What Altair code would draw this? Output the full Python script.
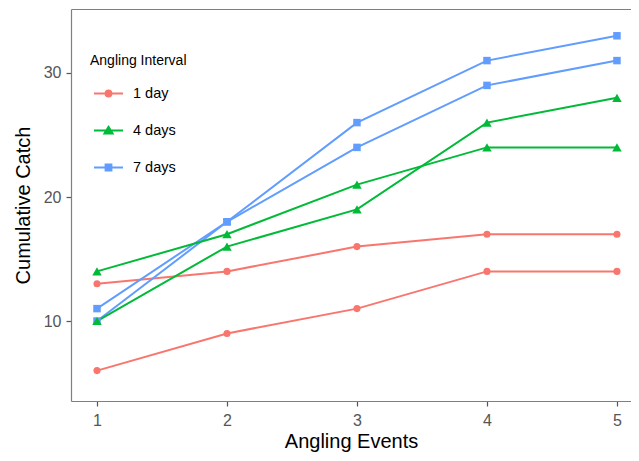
import altair as alt
import pandas as pd

# ---- data ----
events = [1, 2, 3, 4, 5]
intervals = ["1 day", "4 days", "7 days"]
colors = ["#F8766D", "#00BA38", "#619CFF"]

one_day_a = [13, 14, 16, 17, 17]
one_day_b = [6, 9, 11, 14, 14]
four_days_a = [14, 17, 21, 24, 24]
four_days_b = [10, 16, 19, 26, 28]
seven_days_a = [11, 18, 26, 31, 33]
seven_days_b = [10, 18, 24, 29, 31]

y_ticks = [10, 20, 30]

series = [
    ("1 day", "a", one_day_a),
    ("1 day", "b", one_day_b),
    ("7 days", "a", seven_days_a),
    ("7 days", "b", seven_days_b),
    ("4 days", "a", four_days_a),
    ("4 days", "b", four_days_b),
]

rows = []
for interval, rep, vals in series:
    for e, v in zip(events, vals):
        rows.append({"event": e, "catch": v, "interval": interval,
                     "series": interval + " " + rep})
df = pd.DataFrame(rows)

# legend glyphs: a line segment with the marker on it
legend_paths = [
    "M-1,0H1M0.2,0A0.2,0.2,0,1,1,-0.2,0A0.2,0.2,0,1,1,0.2,0Z",
    "M-1,0H1M0,-0.25L0.28,0.21L-0.28,0.21Z",
    "M-1,0H1M-0.2,-0.2H0.2V0.2H-0.2Z",
]

FONT = "Liberation Sans"
BORDER = "#7F7F7F"

x_scale = alt.Scale(domain=[0.8, 5.108], nice=False, zero=False)
y_scale = alt.Scale(domain=[3.55, 35.16], nice=False, zero=False)

x_enc = alt.X(
    "event:Q", scale=x_scale,
    axis=alt.Axis(values=events, title="Angling Events", format="d", orient="bottom"),
)
x_top = alt.X(
    "event:Q", scale=x_scale,
    axis=alt.Axis(orient="top", labels=False, ticks=False, title=None, domain=True),
)
x_plain = alt.X("event:Q", scale=x_scale, axis=None)
y_enc = alt.Y(
    "catch:Q", scale=y_scale,
    axis=alt.Axis(values=y_ticks, title="Cumulative Catch", format="d"),
)
color_enc = alt.Color(
    "interval:N", scale=alt.Scale(domain=intervals, range=colors), legend=None
)

base = alt.Chart(df)

lines = base.mark_line(strokeWidth=2).encode(
    x=x_enc, y=y_enc, color=color_enc, detail="series:N"
)

circles = base.transform_filter(alt.datum.interval == "1 day").mark_point(
    shape="circle", filled=True, size=50, opacity=1
).encode(x=x_plain, y=y_enc, color=color_enc)

squares = base.transform_filter(alt.datum.interval == "7 days").mark_point(
    shape="square", filled=True, size=56, opacity=1
).encode(x=x_plain, y=y_enc, color=color_enc)

triangles = base.transform_filter(alt.datum.interval == "4 days").mark_point(
    shape="triangle-up", filled=True, size=90, opacity=1
).encode(x=x_plain, y=y_enc, color=color_enc)

leg = alt.Legend(
    title="Angling Interval",
    orient="none",
    legendX=19,
    legendY=45,
    padding=0,
    symbolSize=841,
    symbolStrokeWidth=2,
    symbolOpacity=1,
    symbolOffset=3,
    labelOffset=9,
    rowPadding=14,
    titlePadding=10,
    titleFontSize=14,
    titleFontWeight="normal",
    titleColor="black",
    labelFontSize=14.5,
    labelColor="black",
    titleFont=FONT,
    labelFont=FONT,
)

legend_layer = base.mark_point(opacity=0).encode(
    x=x_top,
    y=y_enc,
    fill=alt.Fill("interval:N", scale=alt.Scale(domain=intervals, range=colors), legend=leg),
    stroke=alt.Stroke("interval:N", scale=alt.Scale(domain=intervals, range=colors), legend=leg),
    shape=alt.Shape("interval:N", scale=alt.Scale(domain=intervals, range=legend_paths), legend=leg),
)

chart = alt.layer(legend_layer, lines, circles, squares, triangles).resolve_axis(
    x="independent"
).properties(
    width=560,
    height=392,
    autosize=alt.AutoSizeParams(type="none"),
    padding={"left": 63, "top": 1, "right": 0, "bottom": 52},
).configure_view(
    strokeWidth=0
).configure_axis(
    grid=False,
    domain=True,
    domainColor=BORDER,
    domainWidth=1.2,
    tickColor="#555555",
    tickWidth=1.2,
    tickSize=5,
    labelFont=FONT,
    labelFontSize=16,
    labelColor="#555555",
    titleFont=FONT,
    titleFontSize=20,
    titleFontWeight="normal",
    titleColor="black",
).configure_axisX(
    labelPadding=6,
    titlePadding=3,
).configure_axisY(
    labelPadding=5,
    titlePadding=10,
)

chart.save("out.html", embed_options={"renderer": "svg", "actions": False})
